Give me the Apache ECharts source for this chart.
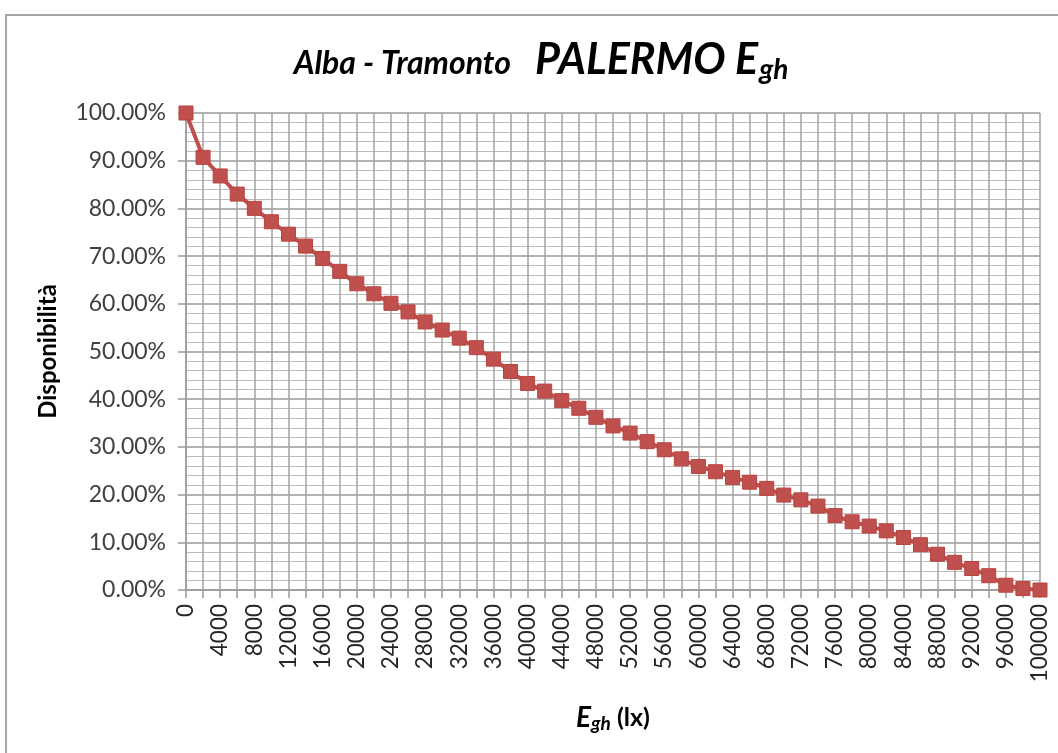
<!DOCTYPE html>
<html>
<head>
<meta charset="utf-8">
<title>Alba - Tramonto PALERMO Egh</title>
<script src="https://cdn.jsdelivr.net/npm/echarts@6/dist/echarts.min.js"></script>
<style>
  html, body { margin: 0; padding: 0; background: #fff; }
  #chart { width: 1058px; height: 753px; }
</style>
</head>
<body>
<div id="chart"></div>
<script>
// Illuminance classes (lx), one every 2000 lx
const illuminance = [
  0, 2000, 4000, 6000, 8000, 10000, 12000, 14000, 16000, 18000,
  20000, 22000, 24000, 26000, 28000, 30000, 32000, 34000, 36000, 38000,
  40000, 42000, 44000, 46000, 48000, 50000, 52000, 54000, 56000, 58000,
  60000, 62000, 64000, 66000, 68000, 70000, 72000, 74000, 76000, 78000,
  80000, 82000, 84000, 86000, 88000, 90000, 92000, 94000, 96000, 98000,
  100000
];

// Availability (%) of global horizontal illuminance, sunrise to sunset
const availability = [
  100.0, 90.7, 86.8, 83.0, 80.0, 77.2, 74.6, 72.1, 69.5, 66.8,
  64.2, 62.1, 60.1, 58.3, 56.2, 54.5, 52.8, 50.8, 48.4, 45.8,
  43.3, 41.7, 39.7, 38.1, 36.2, 34.4, 32.9, 31.1, 29.4, 27.5,
  25.9, 24.8, 23.6, 22.6, 21.3, 19.9, 18.9, 17.6, 15.6, 14.3,
  13.4, 12.4, 11.0, 9.5, 7.5, 5.8, 4.5, 3.0, 1.0, 0.3,
  0.0
];

const FONT = 'Lato, "Open Sans", sans-serif';
const chart = echarts.init(document.getElementById('chart'));

chart.setOption({
  backgroundColor: '#ffffff',
  animation: false,
  graphic: [{
    type: 'rect',
    shape: { x: 6, y: 15, width: 1070, height: 760 },
    style: { fill: 'none', stroke: '#a6a6a6', lineWidth: 2 },
    silent: true,
    z: -10
  }],
  title: {
    left: 536,
    textAlign: 'center',
    top: 30,
    text: '{a|Alba - Tramonto}{b|PALERMO E}{c|gh}',
    textStyle: {
      rich: {
        a: { fontFamily: FONT, fontStyle: 'italic', fontWeight: 'bold', fontSize: 32, color: '#000', lineHeight: 50, padding: [8, 24, 0, 0] },
        b: { fontFamily: FONT, fontStyle: 'italic', fontWeight: 'bold', fontSize: 43, color: '#000', lineHeight: 50 },
        c: { fontFamily: FONT, fontStyle: 'italic', fontWeight: 'bold', fontSize: 28, color: '#000', lineHeight: 50, padding: [20, 0, 0, 1] }
      }
    }
  },
  grid: { left: 186, right: 18, top: 113, bottom: 163 },
  xAxis: {
    type: 'category',
    data: illuminance,
    boundaryGap: false,
    name: '{e|E}{s|gh}{n| (lx)}',
    nameLocation: 'middle',
    nameGap: 112,
    nameTextStyle: {
      rich: {
        e: { fontFamily: FONT, fontStyle: 'italic', fontWeight: 'bold', fontSize: 28, color: '#000' },
        s: { fontFamily: FONT, fontStyle: 'italic', fontWeight: 'bold', fontSize: 19, color: '#000', padding: [12, 0, 0, 0] },
        n: { fontFamily: FONT, fontWeight: 'bold', fontSize: 25, color: '#000' }
      }
    },
    axisLine: { show: true, lineStyle: { color: '#9a9a9a', width: 1.5 } },
    axisTick: { show: true, interval: 0, length: 8, lineStyle: { color: '#9a9a9a', width: 1.5 } },
    axisLabel: {
      interval: 1,
      rotate: 90,
      margin: 14,
      fontFamily: FONT,
      fontSize: 22.5,
      color: '#262626'
    },
    splitLine: { show: true, interval: 0, lineStyle: { color: '#a3a3a3', width: 1.5 } }
  },
  yAxis: {
    type: 'value',
    min: 0,
    max: 1,
    interval: 0.1,
    name: 'Disponibilità',
    nameLocation: 'middle',
    nameGap: 126,
    nameRotate: 90,
    nameTextStyle: { fontFamily: FONT, fontWeight: 'bold', fontSize: 24, color: '#000' },
    axisLine: { show: true, lineStyle: { color: '#9a9a9a', width: 1.5 } },
    axisTick: { show: true, length: 8, lineStyle: { color: '#9a9a9a', width: 1.5 } },
    axisLabel: {
      margin: 20,
      fontFamily: FONT,
      fontSize: 23,
      color: '#404040',
      formatter: v => (v * 100).toFixed(2) + '%'
    },
    splitNumber: 10,
    splitLine: { show: true, lineStyle: { color: '#999999', width: 1.5 } },
    minorTick: { show: false, splitNumber: 5 },
    minorSplitLine: { show: true, lineStyle: { color: '#bdbdbd', width: 1.2 } }
  },
  series: [{
    type: 'line',
    data: availability.map(v => v / 100),
    symbol: 'rect',
    symbolSize: 14,
    showAllSymbol: true,
    lineStyle: { color: '#c0504d', width: 4 },
    itemStyle: { color: '#c0504d', borderColor: '#b9433f', borderWidth: 1 },
    z: 5
  }]
});
</script>
</body>
</html>
